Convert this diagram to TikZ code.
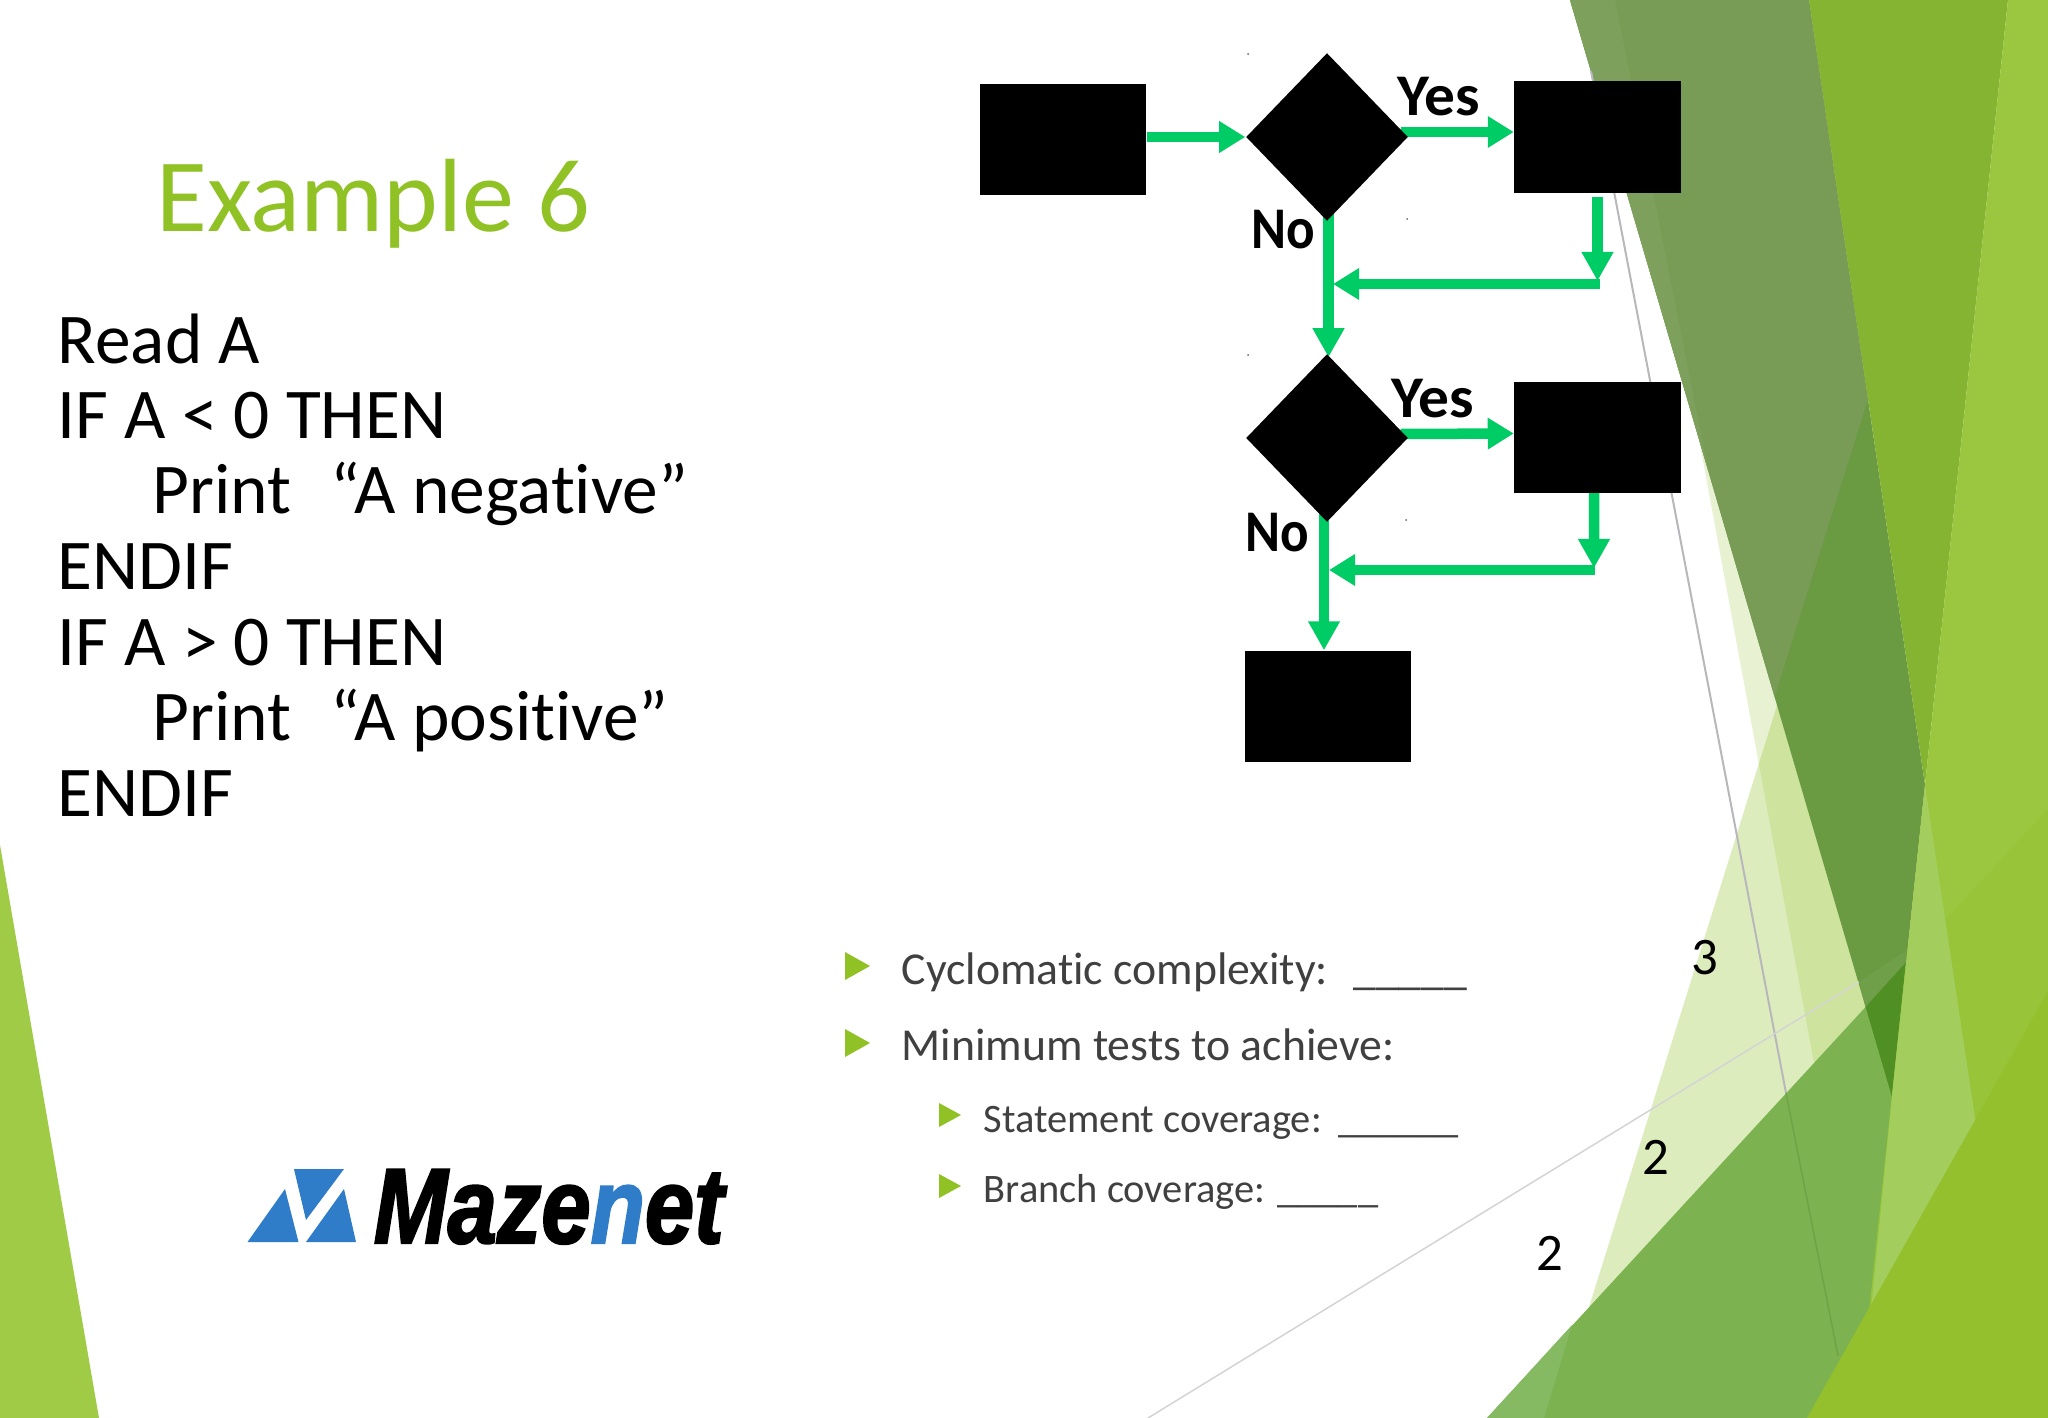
\documentclass[tikz,border=0pt]{standalone}
\usepackage{fontspec}
\setmainfont[Ligatures=NoCommon]{Carlito}
\newfontfamily\logofont[FakeBold=2.2]{Liberation Sans}
\usepackage{tikz}
\usetikzlibrary{arrows.meta, positioning, shapes.geometric, backgrounds}
\definecolor{facetlime}{HTML}{90C226}
\definecolor{flowgreen}{HTML}{00CC66}
\definecolor{bodygray}{HTML}{404040}
\definecolor{logoblue}{HTML}{2F7CC8}

\begin{document}
\begin{tikzpicture}[
    x=0.01cm, y=-0.01cm,
    flowblock/.style={fill=black, inner sep=0pt, minimum width=1.66cm, minimum height=1.11cm},
    decision/.style={diamond, fill=black, inner sep=0pt, minimum width=1.62cm, minimum height=1.68cm},
    flowline/.style={flowgreen, line width=0.105cm},
    flowarrow/.style={flowline, -{Triangle[length=0.26cm, width=0.3cm]}},
    flowdrop/.style={flowline, -{Triangle[length=0.29cm, width=0.3cm]}},
    branchlabel/.style={font=\fontsize{16.8}{18}\selectfont\bfseries, anchor=base west, inner sep=0pt},
    codeline/.style={font=\fontsize{20.3}{22}\selectfont, anchor=base west, inner sep=0pt},
    bulletmain/.style={font=\fontsize{13}{14}\selectfont, text=bodygray, anchor=base west, inner sep=0pt},
    bulletsub/.style={font=\fontsize{11.5}{13}\selectfont, text=bodygray, anchor=base west, inner sep=0pt},
    answer/.style={font=\fontsize{15}{16}\selectfont, anchor=base, inner sep=0pt}
]
\useasboundingbox (0,0) rectangle (2048,1418);

% Facets behind everything
\begin{scope}[on background layer]
\fill[white] (0,0) rectangle (2048,1418);
\fill[facetlime, fill opacity=0.2] (1699,439) -- (1830,1150) -- (1950,1150) -- (1800,500) -- cycle;
\fill[facetlime, fill opacity=0.3] (1785,680) -- (1950,1200) -- (1560,1400) -- cycle;
\fill[color={rgb,255:red,106;green,154;blue,66}] (1570,0) -- (1809,0) -- (1925,785) -- (1892,1097) -- cycle;
\fill[color={rgb,255:red,120;green,156;blue,85}] (1570,0) -- (1809,0) -- (1868,399) -- (1774.6,697) -- cycle;
\fill[color={rgb,255:red,125;green,161;blue,92}] (1570,0) -- (1615,0) -- (1708,470) -- cycle;
\fill[color={rgb,255:red,132;green,180;blue,49}] (1809,0) -- (2008,0) -- (1925,785) -- cycle;
% grey hairlines
\draw[color={rgb,255:red,184;green,184;blue,188}, line width=0.02cm] (1591,71) -- (1786,1093);
\draw[color={rgb,255:red,212;green,212;blue,212}, line width=0.015cm] (1148,1418) -- (1859,982);
% big green wedge
\fill[color={rgb,255:red,124;green,179;blue,80}] (1487,1418) -- (2048,809) -- (2048,1418) -- cycle;
\fill[color={rgb,255:red,133;green,186;blue,99}] (1487,1418) -- (1544,1418) -- (1572,1325) -- cycle;
\fill[color={rgb,255:red,79;green,143;blue,36}] (1865.5,1006.7) -- (1906,962) -- (1892,1097) -- cycle;
\fill[color={rgb,255:red,112;green,159;blue,74}] (1859,982) -- (1910,948) -- (1906,962) -- (1865.5,1006.7) -- cycle;
\draw[color={rgb,255:red,111;green,163;blue,72}, line width=0.015cm] (1786,1093) -- (1838,1356);
% lime strip on the right
\fill[color={rgb,255:red,155;green,198;blue,63}] (2008,0) -- (2048,0) -- (2048,1418) -- (1858,1418) -- cycle;
\fill[color={rgb,255:red,151;green,196;blue,56}] (1906,962) -- (2048,809) -- (2048,1418) -- (1858,1418) -- cycle;
\fill[color={rgb,255:red,163;green,206;blue,94}] (1925,785) -- (1977,1131) -- (1871,1310) -- (1892,1097) -- cycle;
\fill[color={rgb,255:red,147;green,192;blue,44}] (1807,1418) -- (2048,991) -- (2048,1418) -- cycle;
% corner on the left
\fill[color={rgb,255:red,159;green,203;blue,71}] (0,845) -- (99,1418) -- (0,1418) -- cycle;
\end{scope}

% Title and pseudocode
\node[font=\fontsize{29.6}{32}\selectfont, text=facetlime, anchor=base west, inner sep=0pt] (title) at (156,231) {Example 6};
\node[codeline] (line0) at (57,363) {Read A};
\node[codeline] (line1) at (57,438) {IF A < 0 THEN};
\node[codeline] (line2) at (152,513) {Print\hspace{0.55em}“A negative”};
\node[codeline] (line3) at (57,589) {ENDIF};
\node[codeline] (line4) at (57,665) {IF A > 0 THEN};
\node[codeline] (line5) at (152,740) {Print\hspace{0.55em}“A positive”};
\node[codeline] (line6) at (57,816) {ENDIF};

% Flow chart
\node[flowblock] (read) at (1063,139.5) {};
\node[decision] (dec0) at (1327,137) {};
\node[flowblock] (then0) at (1597.5,137) {};
\node[decision] (dec1) at (1327,438) {};
\node[flowblock] (then1) at (1597.5,437.5) {};
\node[flowblock] (stop) at (1328,706.5) {};

\node[branchlabel] (yes0) at (1397,115) {\scalebox{1.04}[1]{Yes}};
\node[branchlabel] (no0) at (1251,248) {\scalebox{0.9}[1]{No}};
\node[branchlabel] (yes1) at (1391,417) {\scalebox{1.04}[1]{Yes}};
\node[branchlabel] (no1) at (1245,551) {\scalebox{0.9}[1]{No}};

\coordinate (join0) at (1599.5,284);
\coordinate (tee0) at (1333,284);
\coordinate (join1) at (1595,570);
\coordinate (tee1) at (1329,570);

\begin{scope}[on background layer]
\draw[flowarrow] (read.east |- dec0) -- (dec0.west);
\draw[flowarrow] ([xshift=-0.08cm, yshift=0.05cm]dec0.east) -- ([yshift=0.05cm]then0.west);
\draw[flowdrop] ([xshift=0.015cm, yshift=0.1cm]dec0.south) -- ([xshift=0.015cm, yshift=-0.04cm]dec1.north);
\draw[flowdrop] ([yshift=-0.04cm]then0.south) -- (then0.south |- 0,281);
\draw[flowarrow] (join0) -- (tee0);
\draw[flowarrow] ([xshift=-0.08cm, yshift=0.04cm]dec1.east) -- ([yshift=0.04cm]then1.west);
\draw[flowdrop] ([xshift=-0.03cm, yshift=0.1cm]dec1.south) -- ([xshift=-0.04cm]stop.north);
\draw[flowdrop] ([xshift=-0.035cm, yshift=0.02cm]then1.south) -- (1594,568);
\draw[flowarrow] (join1) -- (tee1);
\end{scope}

% specks left on the slide
\foreach \p in {(1248,54), (1407,219), (1248,355), (1406,520)}
    \fill[black!60] \p circle (0.01cm);

% Questions
\fill[facetlime] (845,952) -- (870,966) -- (845,980) -- cycle;
\fill[facetlime] (845,1029) -- (870,1043) -- (845,1057) -- cycle;
\fill[facetlime] (939,1103) -- (961,1115) -- (939,1127) -- cycle;
\fill[facetlime] (939,1174) -- (961,1186) -- (939,1198) -- cycle;
\node[bulletmain] (cyclo) at (901,984) {Cyclomatic complexity: \hspace{0.25em}\_\_\_\_\_};
\node[bulletmain] (mintests) at (901,1060) {Minimum tests to achieve:};
\node[bulletsub] (stmt) at (983,1132) {Statement coverage: \hspace{0.1em}\_\_\_\_\_\_};
\node[bulletsub] (branch) at (983,1202) {Branch coverage: \_\_\_\_\_};

% Answers
\node[answer] (ans0) at (1705,974) {3};
\node[answer] (ans1) at (1656,1174) {2};
\node[answer] (ans2) at (1550,1270) {2};

% Logo
\fill[logoblue] (247.5,1242) -- (285,1189) -- (298.5,1242) -- cycle;
\fill[logoblue] (294,1169) -- (344,1169) -- (306,1220) -- cycle;
\fill[logoblue] (344,1189) -- (356,1242) -- (306,1242) -- cycle;
\node[font=\logofont\fontsize{30.4}{32}\selectfont\bfseries\itshape, anchor=base west, inner sep=0pt] (logotext) at (373,1243) {\scalebox{0.83}[1]{Maze\textcolor{logoblue}{n}et}};
\end{tikzpicture}
\end{document}
